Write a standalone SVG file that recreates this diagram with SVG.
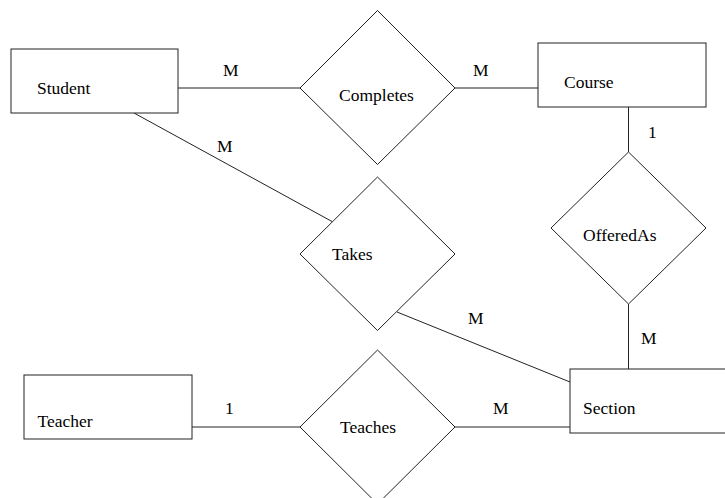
<svg xmlns="http://www.w3.org/2000/svg" width="725" height="498" viewBox="0 0 725 498" font-family="'Liberation Serif', 'Times New Roman', 'DejaVu Serif', serif">
<style>
.s{fill:#fff;stroke:#222;stroke-width:1}
.c{stroke:#222;stroke-width:1;fill:none}
.t{font-family:'Liberation Serif','Times New Roman','DejaVu Serif',serif;font-size:17.5px;fill:#000}
</style>
<rect width="725" height="498" fill="#fff"/>
<g id="connectors">
<line class="c" x1="178" y1="88" x2="300" y2="88"/>
<line class="c" x1="455" y1="88" x2="538" y2="88"/>
<line class="c" x1="134" y1="113" x2="332" y2="221.5"/>
<line class="c" x1="628.5" y1="107" x2="628.5" y2="152"/>
<line class="c" x1="628.5" y1="304" x2="628.5" y2="369"/>
<line class="c" x1="397" y1="312" x2="570" y2="382"/>
<line class="c" x1="192" y1="427" x2="300" y2="427"/>
<line class="c" x1="455" y1="427" x2="570" y2="427"/>
<text class="t" x="223" y="76">M</text>
<text class="t" x="473" y="76">M</text>
<text class="t" x="217" y="152">M</text>
<text class="t" x="648" y="138">1</text>
<text class="t" x="641" y="344">M</text>
<text class="t" x="468" y="324">M</text>
<text class="t" x="225" y="414">1</text>
<text class="t" x="493" y="414">M</text>
</g>
<g id="Student">
<rect class="s" x="11" y="49" width="167" height="64"/>
<text class="t" x="37" y="94">Student</text>
</g>
<g id="Course">
<rect class="s" x="538" y="43" width="168" height="64"/>
<text class="t" x="564" y="88">Course</text>
</g>
<g id="Section">
<rect class="s" x="570" y="369" width="168" height="64"/>
<text class="t" x="583" y="414">Section</text>
</g>
<g id="Teacher">
<rect class="s" x="24" y="375" width="168" height="64"/>
<text class="t" x="37.5" y="427">Teacher</text>
</g>
<g id="Completes">
<polygon class="s" points="377.5,10.5 455,88 377.5,164.5 300,88"/>
<text class="t" x="339" y="101">Completes</text>
</g>
<g id="Takes">
<polygon class="s" points="377.5,177 455,254 377.5,330.5 300,254"/>
<text class="t" x="332" y="260">Takes</text>
</g>
<g id="OfferedAs">
<polygon class="s" points="628.5,152 706,228 628.5,304 551,228"/>
<text class="t" x="583" y="241">OfferedAs</text>
</g>
<g id="Teaches">
<polygon class="s" points="377.5,350 455,427 377.5,504 300,427"/>
<text class="t" x="340" y="433">Teaches</text>
</g>
</svg>
